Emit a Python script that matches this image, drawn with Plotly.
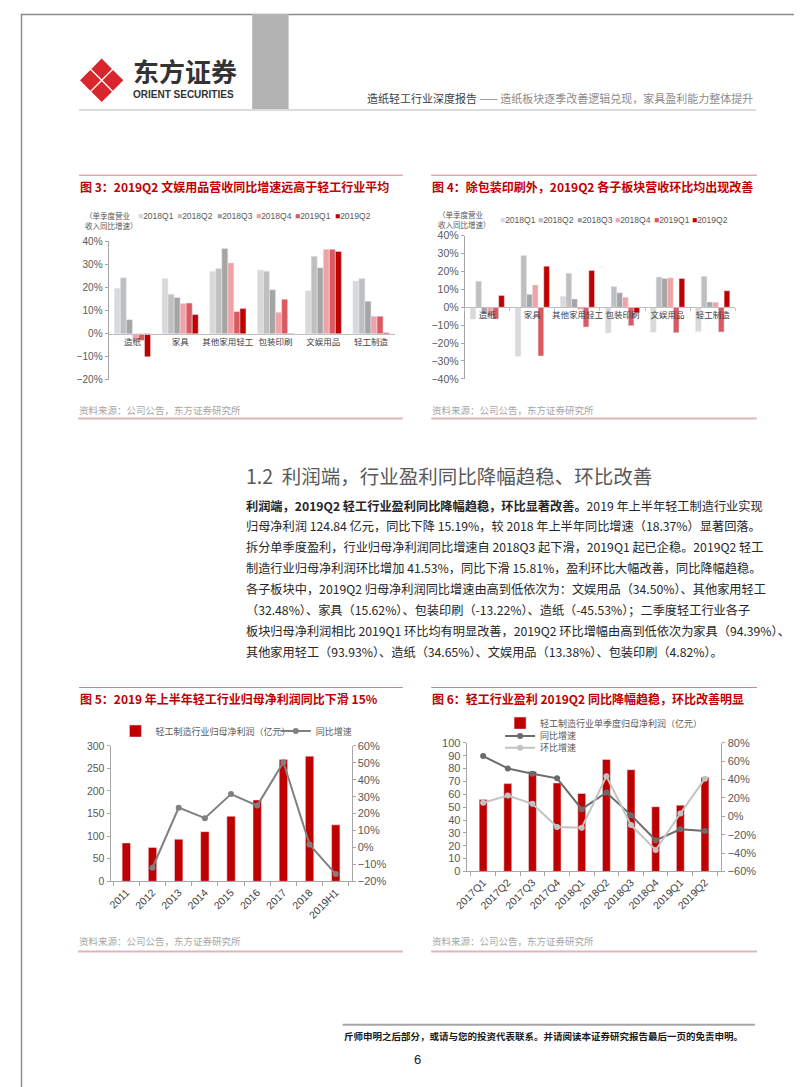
import plotly.graph_objects as go

W, H = 802, 1087
def px(x): return x / W
def py(y): return 1 - y / H

NUM = "Liberation Sans, Noto Sans CJK SC, sans-serif"
CJK = "Noto Sans CJK SC, Liberation Sans, sans-serif"

# ---------------- data ----------------
seg_cats = ["造纸", "家具", "其他家用轻工", "包装印刷", "文娱用品", "轻工制造"]
quarter_names = ["2018Q1", "2018Q2", "2018Q3", "2018Q4", "2019Q1", "2019Q2"]
quarter_colors = ["#d9d9d9", "#bfbfbf", "#a5a5a5", "#f0a3a6", "#db5a60", "#c00000"]

# Fig 3: 单季度营业收入同比增速 (%)
fig3_2018Q1 = [19.7, 23.9, 27.1, 27.6, 18.6, 22.9]
fig3_2018Q2 = [24.3, 17.1, 28.3, 27.1, 33.6, 23.9]
fig3_2018Q3 = [6.1, 15.7, 36.9, 19.1, 28.6, 14.1]
fig3_2018Q4 = [-2.9, 13.1, 30.7, 9.3, 36.6, 7.6]
fig3_2019Q1 = [-2.9, 13.3, 9.7, 15.0, 36.6, 7.6]
fig3_2019Q2 = [-10.0, 8.3, 10.9, -0.3, 35.7, 0.4]

# Fig 4: 单季度营业收入环比增速 (%)
fig4_2018Q1 = [-6.6, -27.3, 6.1, -14.4, -14.0, -13.6]
fig4_2018Q2 = [14.5, 28.8, 19.0, 11.6, 16.8, 17.3]
fig4_2018Q3 = [-3.7, 7.2, 4.6, 8.1, 16.0, 2.9]
fig4_2018Q4 = [-5.0, 12.4, -1.3, 5.5, 16.4, 2.8]
fig4_2019Q1 = [-6.6, -27.2, -11.0, -10.3, -14.2, -13.8]
fig4_2019Q2 = [6.5, 22.9, 20.5, -3.1, 16.0, 9.2]

# Fig 5: 轻工制造行业归母净利润 (亿元) & 同比增速 (%)
fig5_years = ["2011", "2012", "2013", "2014", "2015", "2016", "2017", "2018", "2019H1"]
fig5_profit = [85, 75, 93, 110, 144, 180, 270, 277, 125]
fig5_yoy = [None, -12.0, 23.5, 17.3, 31.5, 24.7, 50.3, 1.7, -15.7]

# Fig 6: 单季度归母净利润 (亿元), 同比 / 环比 (%)
fig6_quarters = ["2017Q1", "2017Q2", "2017Q3", "2017Q4", "2018Q1",
                 "2018Q2", "2018Q3", "2018Q4", "2019Q1", "2019Q2"]
fig6_profit = [55.9, 68.3, 77.8, 68.8, 60.6, 87.1, 79.1, 50.3, 51.5, 73.2]
fig6_yoy = [65.6, 52.2, 46.4, 41.4, 7.8, 25.9, 1.3, -26.1, -14.2, -16.0]
fig6_qoq = [14.7, 22.6, 13.6, -11.6, -12.4, 43.6, -9.5, -36.6, 3.1, 41.0]

fig3_series = [fig3_2018Q1, fig3_2018Q2, fig3_2018Q3, fig3_2018Q4, fig3_2019Q1, fig3_2019Q2]
fig4_series = [fig4_2018Q1, fig4_2018Q2, fig4_2018Q3, fig4_2018Q4, fig4_2019Q1, fig4_2019Q2]

BAR_RED = "#c00000"
TITLE_RED = "#c00000"

fig = go.Figure()

for name, col, vals in zip(quarter_names, quarter_colors, fig3_series):
    fig.add_trace(go.Bar(x=seg_cats, y=vals, name=name, marker_color=col,
                         xaxis="x", yaxis="y", showlegend=False))
for name, col, vals in zip(quarter_names, quarter_colors, fig4_series):
    fig.add_trace(go.Bar(x=seg_cats, y=vals, name=name, marker_color=col,
                         xaxis="x2", yaxis="y2", showlegend=False))

fig.add_trace(go.Bar(x=fig5_years, y=fig5_profit, name="轻工制造行业归母净利润（亿元）",
                     marker_color=BAR_RED, width=0.32, offset=-0.16,
                     xaxis="x3", yaxis="y3", legend="legend"))
fig.add_trace(go.Scatter(x=fig5_years, y=fig5_yoy, name="同比增速", mode="lines+markers",
                         line=dict(color="#808080", width=2), marker=dict(size=6, color="#808080"),
                         xaxis="x3", yaxis="y4", legend="legend2"))

fig.add_trace(go.Bar(x=fig6_quarters, y=fig6_profit, name="轻工制造行业单季度归母净利润（亿元）",
                     marker_color=BAR_RED, width=0.32, offset=-0.16,
                     xaxis="x4", yaxis="y5", legend="legend3"))
fig.add_trace(go.Scatter(x=fig6_quarters, y=fig6_yoy, name="同比增速", mode="lines+markers",
                         line=dict(color="#6b6b6b", width=2), marker=dict(size=6, color="#6b6b6b"),
                         xaxis="x4", yaxis="y6", legend="legend4"))
fig.add_trace(go.Scatter(x=fig6_quarters, y=fig6_qoq, name="环比增速", mode="lines+markers",
                         line=dict(color="#c3c3c3", width=2), marker=dict(size=6, color="#c3c3c3"),
                         xaxis="x4", yaxis="y6", legend="legend5"))

AX_LINE = "#a6a6a6"
def yax(domain, rng, dtick, suffix="", side="left", anchor=None, overlaying=None, size=10):
    d = dict(domain=domain, range=rng, dtick=dtick, ticksuffix=suffix, side=side,
             showline=True, linecolor=AX_LINE, linewidth=1, ticks="outside", ticklen=3,
             tickcolor=AX_LINE, showgrid=False, zeroline=False,
             tickfont=dict(family=NUM, size=size, color="#595959"), fixedrange=True)
    if anchor: d["anchor"] = anchor
    if overlaying: d["overlaying"] = overlaying
    return d

def xcat(domain, **kw):
    d = dict(domain=domain, type="category", showline=True, linecolor="#bfbfbf", linewidth=1,
             showgrid=False, zeroline=False, fixedrange=True)
    d.update(kw)
    return d

# chart geometry (px)
c3_top, c3_bot = 230, 370
c4_top, c4_bot = 224, 369
c3_zero = c3_top + (40 / 60) * (c3_bot - c3_top)
c4_zero = c4_top + 0.5 * (c4_bot - c4_top)

fig.update_layout(
    width=W, height=H, margin=dict(l=0, r=0, t=0, b=0),
    paper_bgcolor="white", plot_bgcolor="rgba(0,0,0,0)",
    barmode="group", bargap=0.24, bargroupgap=0,
    font=dict(family=CJK, color="#404040"),
    xaxis=xcat([px(89), px(380)], anchor="free", position=py(c3_zero), ticks="",
               tickangle=0, tickfont=dict(family=CJK, size=8.5, color="#404040")),
    yaxis=yax([py(c3_bot), py(c3_top)], [-20, 40], 10, "%", anchor="x"),
    xaxis2=xcat([px(451), px(726)], anchor="free", position=py(c4_zero), ticks="outside",
                ticklen=3, tickcolor="#bfbfbf", tickson="boundaries", tickangle=0,
                tickfont=dict(family=CJK, size=8.5, color="#404040")),
    yaxis2=yax([py(c4_bot), py(c4_top)], [-40, 40], 10, "%", anchor="x2", size=10.5),
    xaxis3=xcat([px(91), px(336)], anchor="y3", tickangle=-45, ticks="outside", ticklen=4,
                tickcolor=AX_LINE, linecolor=AX_LINE, tickson="boundaries",
                tickfont=dict(family=NUM, size=10.5, color="#404040")),
    yaxis3=yax([py(877), py(740)], [0, 300], 50, anchor="x3", size=10.5),
    yaxis4=yax([py(877), py(740)], [-20, 60], 10, "%", side="right", anchor="x3",
               overlaying="y3", size=11),
    xaxis4=xcat([px(453), px(712)], anchor="y5", tickangle=-45, ticks="outside", ticklen=4,
                tickcolor=AX_LINE, linecolor=AX_LINE, tickson="boundaries",
                tickfont=dict(family=NUM, size=10.5, color="#404040")),
    yaxis5=yax([py(867), py(737)], [0, 100], 10, anchor="x4", size=11),
    yaxis6=yax([py(867), py(737)], [-60, 80], 20, "%", side="right", anchor="x4",
               overlaying="y5", size=11),
)

def leg(x, y):
    return dict(x=px(x), y=py(y), xanchor="left", yanchor="middle", bgcolor="rgba(0,0,0,0)",
                borderwidth=0, itemwidth=30, orientation="h",
                font=dict(family=CJK, size=9, color="#595959"))

fig.update_layout(legend=leg(96, 725), legend2=leg(259, 725),
                  legend3=leg(487, 717), legend4=leg(487, 730), legend5=leg(487, 742))

ann = []
def text(x, y, t, size, color="#404040", xanchor="left", family=CJK, align="left"):
    ann.append(dict(x=px(x), y=py(y), xref="paper", yref="paper", text=t, showarrow=False,
                    xanchor=xanchor, yanchor="middle", align=align, borderpad=0,
                    font=dict(family=family, size=size, color=color)))

# legends of fig3/fig4 (compact, like the source)
def compact_legend(x0, y, step):
    for i, (n, c) in enumerate(zip(quarter_names, quarter_colors)):
        text(x0 + i * step, y, f"<span style='color:{c}'>■</span>{n}", 8.5, "#595959", family=NUM)

compact_legend(118, 204, 40)
compact_legend(486, 208, 39)
text(64, 209, "（单季度营业<br>收入同比增速）", 7.5, "#595959")
text(423, 208, "（单季度营业<br>收入同比增速）", 7.5, "#595959")

# chart titles
text(59, 174, "<b>图 3：2019Q2 文娱用品营收同比增速远高于轻工行业平均</b>", 12, TITLE_RED)
text(417, 174, "<b>图 4：除包装印刷外，2019Q2 各子板块营收环比均出现改善</b>", 12, TITLE_RED)
text(59, 692, "<b>图 5：2019 年上半年轻工行业归母净利润同比下滑 15%</b>", 12, TITLE_RED)
text(417, 692, "<b>图 6：轻工行业盈利 2019Q2 同比降幅趋稳，环比改善明显</b>", 12, TITLE_RED)

# sources
for x0 in (58, 417):
    text(x0, 400, "资料来源：公司公告，东方证券研究所", 9.5, "#a6a6a6")
    text(x0, 937, "资料来源：公司公告，东方证券研究所", 9.5, "#a6a6a6")

# section heading + paragraph
text(228, 467, "1.2  利润端，行业盈利同比降幅趋稳、环比改善", 19.5, "#595959")
para = [
    "<b>利润端，2019Q2 轻工行业盈利同比降幅趋稳，环比显著改善。</b>2019 年上半年轻工制造行业实现",
    "归母净利润 124.84 亿元，同比下降 15.19%，较 2018 年上半年同比增速（18.37%）显著回落。",
    "拆分单季度盈利，行业归母净利润同比增速自 2018Q3 起下滑，2019Q1 起已企稳。2019Q2 轻工",
    "制造行业归母净利润环比增加 41.53%，同比下滑 15.81%，盈利环比大幅改善，同比降幅趋稳。",
    "各子板块中，2019Q2 归母净利润同比增速由高到低依次为：文娱用品（34.50%）、其他家用轻工",
    "（32.48%）、家具（15.62%）、包装印刷（-13.22%）、造纸（-45.53%）；二季度轻工行业各子",
    "板块归母净利润相比 2019Q1 环比均有明显改善，2019Q2 环比增幅由高到低依次为家具（94.39%）、",
    "其他家用轻工（93.93%）、造纸（34.65%）、文娱用品（13.38%）、包装印刷（4.82%）。",
]
for i, line in enumerate(para):
    text(228, 497 + i * 21.15, line, 12.2, "#262626")

# header
text(113, 57, "<b>东方证券</b>", 26, "#333333")
text(113, 81, "<b>ORIENT SECURITIES</b>", 10, "#333333", family="Liberation Sans, sans-serif")
text(745, 85, "<span style='color:#404040'>造纸轻工行业深度报告</span>"
              "<span style='color:#8c8c8c'> —— 造纸板块逐季改善逻辑兑现，家具盈利能力整体提升</span>",
     11, "#404040", xanchor="right")

# footer
text(327, 1033, "<b>斤师申明之后部分，或请与您的投资代表联系。并请阅读本证券研究报告最后一页的免责申明。</b>",
     9.5, "#1a1a1a")
text(403, 1057, "6", 13, "#1a1a1a", xanchor="center", family=NUM)

fig.update_layout(annotations=ann)

shapes = []
def line(x0, y0, x1, y1, color, w=1):
    shapes.append(dict(type="line", xref="paper", yref="paper", x0=px(x0), y0=py(y0),
                       x1=px(x1), y1=py(y1), line=dict(color=color, width=w)))
def rect(x0, y0, x1, y1, fill, lc=None, w=0):
    shapes.append(dict(type="rect", xref="paper", yref="paper", x0=px(x0), y0=py(y0),
                       x1=px(x1), y1=py(y1), fillcolor=fill,
                       line=dict(color=lc or fill, width=w)))

rect(0.5, 0.5, 801.5, 1086.5, "rgba(0,0,0,0)", "#8c8c8c", 1.5)
rect(235, 0, 272, 96, "#b3b3b3")
line(59, 97, 747, 97, "#d0d0d0", 1.5)
for y in (163, 681):
    line(59, y, 388, y, "#e07a7e", 1)
    line(417, y, 748, y, "#e07a7e", 1)
for y in (409, 948):
    line(58, y, 388, y, "#e3b3bb", 2)
    line(417, y, 748, y, "#e3b3bb", 2)
line(327, 1022, 746, 1022, "#a6a6a6", 2)

# logo: four red diamonds forming an X-cut rhombus
cx, cy, r = 82, 67, 10.5
for dx, dy in ((0, -11.5), (11.5, 0), (0, 11.5), (-11.5, 0)):
    x, y = cx + dx, cy + dy
    path = (f"M{px(x)},{py(y - r)} L{px(x + r)},{py(y)} L{px(x)},{py(y + r)} "
            f"L{px(x - r)},{py(y)} Z")
    shapes.append(dict(type="path", xref="paper", yref="paper", path=path,
                       fillcolor="#d7262c", line=dict(color="#d7262c", width=0)))

fig.update_layout(shapes=shapes)

fig.write_html("out.html")
